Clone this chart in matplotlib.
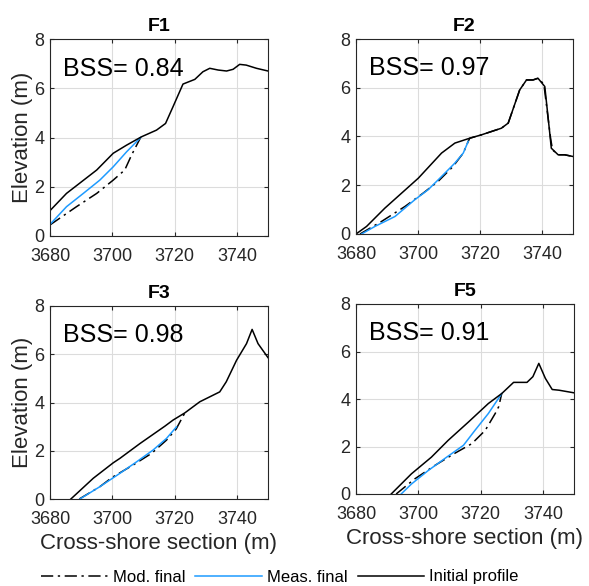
import numpy as np
import matplotlib.pyplot as plt

plt.rcParams['font.family'] = ['Liberation Sans', 'DejaVu Sans']

# data
panels = ['F1', 'F2', 'F3', 'F5']
bss = [0.84, 0.97, 0.98, 0.91]

init_x = [
    [3680, 3685.3, 3695, 3700.3, 3704.6, 3709.4, 3714.2, 3717.1, 3719.5, 3722.7, 3726.5, 3729.1,
     3731.3, 3734, 3736.7, 3738.8, 3740.9, 3743, 3746.3, 3750],
    [3680, 3683.4, 3689.3, 3700.1, 3707.6, 3711.9, 3716.7, 3720.5, 3726.9, 3729.1, 3732.8, 3735,
     3737.1, 3738.7, 3740.9, 3742.5, 3743, 3745.2, 3747.3, 3750],
    [3686.7, 3693.9, 3700.3, 3702.4, 3708.9, 3716.9, 3719.5, 3723.3, 3728.1, 3734.5, 3736.6,
     3739.9, 3743.1, 3744.9, 3746.8, 3750],
    [3691.3, 3697.8, 3704.2, 3709.6, 3716.1, 3722.5, 3726.8, 3730.6, 3734.9, 3736.8, 3738.7,
     3740.8, 3743, 3745.2, 3750],
]
init_y = [
    [1.03, 1.73, 2.68, 3.36, 3.69, 4.03, 4.3, 4.57, 5.25, 6.17, 6.36, 6.67,
     6.81, 6.74, 6.7, 6.77, 6.97, 6.94, 6.81, 6.7],
    [0, 0.31, 1.06, 2.29, 3.32, 3.73, 3.93, 4.07, 4.34, 4.55, 5.91, 6.32,
     6.32, 6.39, 6.05, 4.14, 3.52, 3.25, 3.25, 3.18],
    [0, 0.86, 1.5, 1.68, 2.3, 3.02, 3.27, 3.57, 4.03, 4.44, 4.86,
     5.75, 6.44, 7.03, 6.44, 5.86],
    [0, 0.85, 1.55, 2.26, 3.03, 3.81, 4.23, 4.7, 4.7, 4.94, 5.5,
     4.87, 4.4, 4.37, 4.26],
]

meas_x = [
    [3680, 3685.3, 3690.7, 3696, 3700.3, 3704.6, 3709.1],
    [3681.8, 3686.1, 3692.6, 3699, 3703.3, 3707.6, 3711.9, 3714.6, 3716.2],
    [3689.6, 3696, 3702.4, 3707.8, 3713.1, 3717.4, 3720.6],
    [3694.5, 3697.8, 3703.2, 3709.1, 3714.5, 3718.2, 3722.5, 3726.8],
]
meas_y = [
    [0.47, 1.19, 1.73, 2.27, 2.81, 3.42, 4.0],
    [0, 0.31, 0.72, 1.41, 1.82, 2.36, 2.91, 3.32, 3.8],
    [0, 0.51, 1.06, 1.54, 2.03, 2.51, 2.99],
    [0, 0.42, 0.99, 1.55, 2.05, 2.68, 3.39, 4.23],
]

mod_x = [
    [3680, 3688.5, 3695, 3700.3, 3704, 3706.2, 3708.4, 3709.1],
    [3681.3, 3688.3, 3695.8, 3701.7, 3706.5, 3711.3, 3714.6, 3716.2, 3716.7, 3720.5, 3726.9,
     3729.1, 3732.8, 3735, 3737.1, 3738.7, 3740.6, 3742.8, 3743.4, 3745.2, 3747.3, 3750],
    [3689.4, 3696, 3700, 3706.7, 3712.6, 3717.4, 3720.5, 3723.3],
    [3692.9, 3698.8, 3705.3, 3711.8, 3717.2, 3721.5, 3724.7, 3725.8, 3726.8],
]
mod_y = [
    [0.45, 1.19, 1.73, 2.27, 2.68, 3.29, 3.83, 4.0],
    [0, 0.52, 1.13, 1.68, 2.16, 2.77, 3.32, 3.8, 3.93, 4.07, 4.34,
     4.55, 5.91, 6.32, 6.32, 6.39, 6.15, 3.9, 3.45, 3.25, 3.25, 3.18],
    [0, 0.51, 0.9, 1.41, 1.89, 2.44, 2.9, 3.57],
    [0, 0.63, 1.2, 1.72, 2.12, 2.68, 3.39, 3.67, 4.23],
]

xticks = [3680, 3700, 3720, 3740]
yticks = [0, 2, 4, 6, 8]

tc = '#262626'
blue = '#1e9bff'

fig = plt.figure(figsize=(5.89, 5.86), dpi=100)
# axes boxes in pixels: left, top, right, bottom
px = [
    (50, 39, 268, 236),
    (356, 39, 573, 234),
    (50, 306, 268, 499),
    (356, 304, 574, 494),
]

for i, name in enumerate(panels):
    l, t, r, b = px[i]
    ax = fig.add_axes([l / 589, 1 - b / 586, (r - l) / 589, (b - t) / 586])
    ax.plot(mod_x[i], mod_y[i], color='black', lw=1.1, ls=(0, (8, 3, 1.5, 3)), label='Mod. final')
    ax.plot(meas_x[i], meas_y[i], color=blue, lw=1.1, label='Meas. final')
    ax.plot(init_x[i], init_y[i], color='black', lw=1.1, label='Initial profile')
    ax.set_xlim(3680, 3750)
    ax.set_ylim(0, 8)
    ax.set_xticks(xticks)
    ax.set_yticks(yticks)
    ax.grid(True, color='#dcdcdc', lw=0.8)
    ax.set_axisbelow(True)
    ax.tick_params(direction='in', length=3, labelsize=13, colors=tc, top=True, right=True,
                   labeltop=False, labelright=False)
    ax.tick_params(axis='x', pad=8.5)
    ax.tick_params(axis='y', pad=4)
    for s in ax.spines.values():
        s.set_color(tc)
        s.set_linewidth(0.8)
    ax.set_title(name, fontsize=14, fontweight='bold', color='black', pad=6)
    ax.text(0.06, 0.85, 'BSS= %.2f' % bss[i], transform=ax.transAxes, fontsize=18,
            va='center', ha='left', color='black')
    if i % 2 == 0:
        ax.set_ylabel('Elevation (m)', fontsize=16, color=tc, labelpad=1)
    if i >= 2:
        ax.set_xlabel('Cross-shore section (m)', fontsize=16, color=tc, labelpad=4)
    if i == 0:
        handles, labels = ax.get_legend_handles_labels()

fig.legend(handles, labels, loc='center', bbox_to_anchor=(280 / 589, 1 - 577 / 586), ncol=3,
           frameon=False, fontsize=12, handlelength=4.0, handletextpad=0.3, columnspacing=0.6)

fig.savefig('out.png', dpi=100)
